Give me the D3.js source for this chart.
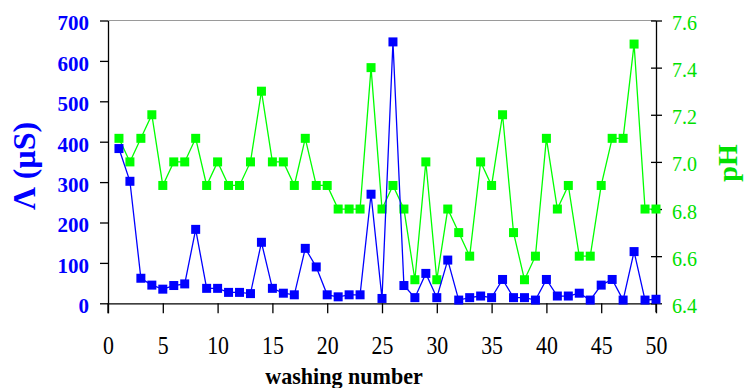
<!DOCTYPE html>
<html>
<head>
<meta charset="utf-8">
<script src="https://cdn.jsdelivr.net/npm/d3@7"></script>
<style>
  html, body { margin: 0; padding: 0; background: #fff; }
  svg { display: block; }
</style>
</head>
<body>
<svg id="chart" width="748" height="388"></svg>
<script>
// ---- data ----
const washing = d3.range(1, 51);
const conductivity = [383, 302, 62, 45, 35, 44, 48, 183, 37, 37,
                      27, 27, 24, 151, 37, 25, 21, 136, 90, 21,
                      16, 21, 21, 270, 12, 647, 44, 14, 74, 14,
                      107, 8, 14, 18, 14, 59, 14, 14, 8, 59,
                      18, 18, 25, 8, 45, 59, 8, 128, 8, 10];
const pH = [7.1, 7.0, 7.1, 7.2, 6.9, 7.0, 7.0, 7.1, 6.9, 7.0,
            6.9, 6.9, 7.0, 7.3, 7.0, 7.0, 6.9, 7.1, 6.9, 6.9,
            6.8, 6.8, 6.8, 7.4, 6.8, 6.9, 6.8, 6.5, 7.0, 6.5,
            6.8, 6.7, 6.6, 7.0, 6.9, 7.2, 6.7, 6.5, 6.6, 7.1,
            6.8, 6.9, 6.6, 6.6, 6.9, 7.1, 7.1, 7.5, 6.8, 6.8];
const xTicks = [0, 5, 10, 15, 20, 25, 30, 35, 40, 45, 50];
const leftTicks = [0, 100, 200, 300, 400, 500, 600, 700];
const rightTicks = [6.4, 6.6, 6.8, 7.0, 7.2, 7.4, 7.6];
const xTitle = "washing number";
const leftTitle = "Λ (μS)";
const rightTitle = "pH";

// ---- layout ----
const L = 108, R = 656, T = 20.5, B = 303.3;
const blue = "#0000ff", green = "#00ff00", greenText = "#00e000";
const svg = d3.select("#chart");

const x = d3.scaleLinear().domain([0, 50]).range([L, R]);
const yL = d3.scaleLinear().domain([0, 700]).range([B, T]);
const yR = d3.scaleLinear().domain([6.4, 7.6]).range([B, T]);

// top border
svg.append("line").attr("x1", L).attr("x2", R).attr("y1", T).attr("y2", T)
  .attr("stroke", "#9a9a9a").attr("stroke-width", 1.2);

// x axis
const gx = svg.append("g").attr("transform", `translate(0,${B})`)
  .call(d3.axisBottom(x).tickValues(xTicks).tickSize(10).tickSizeOuter(0).tickPadding(22));
gx.select(".domain").attr("stroke", "#000").attr("stroke-width", 1.3);
gx.selectAll(".tick line").attr("stroke", "#000").attr("stroke-width", 1.3);
gx.selectAll(".tick text")
  .attr("font-family", "Liberation Serif, Times New Roman, serif")
  .attr("font-size", 26).attr("fill", "#000")
  .attr("transform", "scale(0.84,1)");

// left axis
const gl = svg.append("g").attr("transform", `translate(${L},0)`)
  .call(d3.axisLeft(yL).tickValues(leftTicks).tickSize(8).tickSizeOuter(0).tickPadding(11));
gl.select(".domain").attr("stroke", "#000").attr("stroke-width", 1.3);
gl.selectAll(".tick line").attr("stroke", "#000").attr("stroke-width", 1.3);
gl.selectAll(".tick text")
  .attr("font-family", "Liberation Serif, Times New Roman, serif")
  .attr("font-size", 21).attr("font-weight", "bold").attr("fill", blue)
  .attr("dy", "0.45em");
svg.append("line").attr("x1", L).attr("x2", L).attr("y1", B).attr("y2", B + 10)
  .attr("stroke", "#000").attr("stroke-width", 1.3);

// right axis
const gr = svg.append("g").attr("transform", `translate(${R},0)`)
  .call(d3.axisRight(yR).tickValues(rightTicks).tickSize(6).tickSizeOuter(0).tickPadding(10)
    .tickFormat(d3.format(".1f")));
gr.select(".domain").attr("stroke", "#000").attr("stroke-width", 1.3);
gr.selectAll(".tick line").attr("stroke", "#000").attr("stroke-width", 1.3).attr("x1", -5);
gr.selectAll(".tick text")
  .attr("font-family", "Liberation Serif, Times New Roman, serif")
  .attr("font-size", 20).attr("fill", greenText)
  .attr("dy", "0.45em");
svg.append("line").attr("x1", R).attr("x2", R).attr("y1", B).attr("y2", B + 9)
  .attr("stroke", "#000").attr("stroke-width", 1.3);

// titles
svg.append("text").attr("x", 344).attr("y", 384).attr("text-anchor", "middle")
  .attr("font-family", "Liberation Serif, Times New Roman, serif")
  .attr("font-size", 24).attr("font-weight", "bold").attr("fill", "#000")
  .attr("transform", "translate(344,0) scale(0.92,1) translate(-344,0)")
  .text(xTitle);
svg.append("text").attr("transform", "translate(35,166) rotate(-90)")
  .attr("text-anchor", "middle")
  .attr("font-family", "Liberation Serif, Times New Roman, serif")
  .attr("font-size", 32).attr("font-weight", "bold").attr("fill", blue)
  .text(leftTitle);
svg.append("text").attr("transform", "translate(737,163) rotate(-90)")
  .attr("text-anchor", "middle")
  .attr("font-family", "Liberation Serif, Times New Roman, serif")
  .attr("font-size", 28).attr("font-weight", "bold").attr("fill", greenText)
  .text(rightTitle);

// series
const sq = 9;
function series(values, yScale, color) {
  const pts = washing.map((w, i) => [x(w), yScale(values[i])]);
  svg.append("path").attr("d", d3.line()(pts))
    .attr("fill", "none").attr("stroke", color).attr("stroke-width", 1.3);
  svg.append("g").selectAll("rect").data(pts).join("rect")
    .attr("x", d => d[0] - sq / 2).attr("y", d => d[1] - sq / 2)
    .attr("width", sq).attr("height", sq).attr("fill", color);
}
series(pH, yR, green);
series(conductivity, yL, blue);
</script>
</body>
</html>
